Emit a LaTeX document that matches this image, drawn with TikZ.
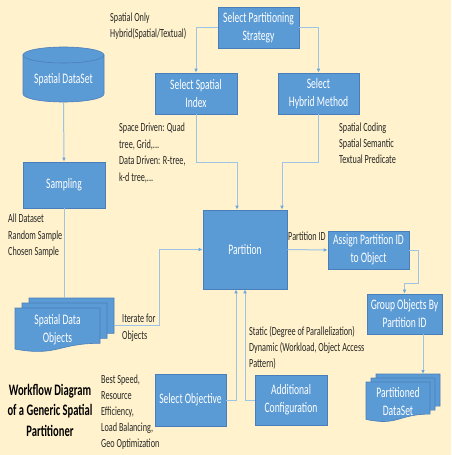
\documentclass[tikz,border=0pt]{standalone}
\usepackage{fontspec}
\setmainfont{Carlito}[FakeStretch=0.66]
\usetikzlibrary{arrows.meta}
\definecolor{bg}{HTML}{FFF2CC}
\definecolor{boxblue}{HTML}{5B9BD5}
\definecolor{boxborder}{HTML}{4A7EBB}
\definecolor{lineblue}{HTML}{9DC3E6}
\definecolor{arrowblue}{HTML}{6FA8DC}
\definecolor{notetext}{HTML}{262626}
\newcommand\docshape[4]{%
  \filldraw[docst] (#1,#2) -- ({#1+#3},#2) -- ({#1+#3},{#2+0.802*#4})
   .. controls ({#1+0.5*#3},{#2+0.802*#4}) and ({#1+0.5*#3},{#2+1.1075*#4}) .. (#1,{#2+0.934*#4}) -- cycle;}
\begin{document}
\begin{tikzpicture}[x=1pt,y=-1pt,
  box/.style={draw=boxborder, line width=0.6pt, fill=boxblue, text=white,
    font=\fontsize{14.5}{18}\selectfont, align=center, inner sep=0pt},
  boxtext/.style={text=white, font=\fontsize{14.5}{18}\selectfont, align=center, inner sep=0pt},
  docst/.style={draw=boxborder, line width=0.6pt, fill=boxblue},
  note/.style={text=notetext, font=\fontsize{12.4}{16.4}\selectfont, inner sep=0pt, anchor=base west},
  conn/.style={draw=lineblue, line width=1pt, -{Latex[length=4pt,width=3.6pt,color=arrowblue]}},
  connplain/.style={draw=lineblue, line width=1pt}]
\useasboundingbox (0,0) rectangle (451,455);
\fill[bg] (0,0) rectangle (451,455);

% cylinder
\filldraw[docst] (23,55) -- (23,94) .. controls (23,98.42) and (41.13,102) .. (63.5,102)
  .. controls (85.87,102) and (104,98.42) .. (104,94) -- (104,55) -- cycle;
\filldraw[docst] (63.5,55) ellipse [x radius=40.5pt, y radius=8pt];
\node[boxtext] (ds) at (63.5,80) {Spatial DataSet};
\coordinate (dsbot) at (63.5,102);

% boxes
\node[box, minimum width=81pt, minimum height=41pt] (strat) at (258.5,27.5) {Select Partitioning\\Strategy};
\node[box, minimum width=82pt, minimum height=41pt] (idx) at (196,93.5) {Select Spatial\\Index};
\node[box, minimum width=81pt, minimum height=41pt] (hyb) at (318.5,93.5) {Select\\Hybrid Method};
\node[box, minimum width=82pt, minimum height=46pt] (samp) at (64,185) {Sampling};
\node[box, minimum width=84pt, minimum height=79pt] (part) at (245,249.5) {Partition};
\node[box, minimum width=81pt, minimum height=38pt] (assign) at (368.5,250) {Assign Partition ID\\to Object};
\node[box, minimum width=75pt, minimum height=40pt] (group) at (404.5,314) {Group Objects By\\Partition ID};
\node[box, minimum width=71pt, minimum height=52pt] (obj) at (190.5,400) {Select Objective};
\node[box, minimum width=72pt, minimum height=50pt] (conf) at (291,400) {Additional\\Configuration};

% multi-documents
\docshape{29}{298}{85}{44}
\docshape{22}{303}{85}{44}
\docshape{15}{308}{85}{44}
\node[boxtext] (sdo) at (57.5,330) {Spatial Data\\Objects};
\coordinate (sdotop) at (64,298);
\coordinate (sdoR) at (114,325);

\docshape{376}{374}{64}{40}
\docshape{371}{378}{64}{40}
\docshape{366}{382}{64}{40}
\node[boxtext] (pds) at (398,401.5) {Partitioned\\DataSet};
\coordinate (pdstop) at (423,374);

% connectors
\draw[conn] (strat.west) -| (idx.north);
\draw[conn] (strat.east) -| (hyb.north);
\draw[conn] (idx.south) -- ++(0,48) -| ([xshift=-8pt]part.north);
\draw[conn] (hyb.south) -- ++(0,48) -| ([xshift=37pt]part.north);
\draw[conn] (dsbot) -- (samp.north);
\draw[connplain] (samp.south) -- (sdotop);
\draw[conn] (sdoR) -- ++(45,0) |- (part.west);
\draw[conn] (part.east) -- (assign.west);
\draw[conn] (assign.east) -- ++(9,0) -- ++(0,33) -| (group.north);
\draw[conn] ([xshift=18.5pt]group.south) -- (pdstop);
\draw[conn] (obj.east) -| ([xshift=-9pt]part.south);
\draw[conn] (conf.west) -| (part.south);

% notes
\node[note] (n1) at (110,21) {Spatial Only};
\node[note] (n2) at (110,37.5) {Hybrid(Spatial/Textual)};
\node[note] (n3) at (119,131.5) {Space Driven: Quad};
\node[note] (n4) at (119,148) {tree, Grid,...};
\node[note] (n5) at (119,164.5) {Data Driven: R-tree,};
\node[note] (n6) at (119,181) {k-d tree,...};
\node[note] (n7) at (339,131.5) {Spatial Coding};
\node[note] (n8) at (339,147.5) {Spatial Semantic};
\node[note] (n9) at (339,163.5) {Textual Predicate};
\node[note] (n10) at (8,222.5) {All Dataset};
\node[note] (n11) at (8,239) {Random Sample};
\node[note] (n12) at (8,255.3) {Chosen Sample};
\node[note] (n13) at (122,322.5) {Iterate for};
\node[note] (n14) at (122,339) {Objects};
\node[note] (n15) at (288,240.5) {Partition ID};
\node[note] (n16) at (249,335.5) {Static (Degree of Parallelization)};
\node[note] (n17) at (249,351.5) {Dynamic (Workload, Object Access};
\node[note] (n18) at (249,367.5) {Pattern)};
\node[note] (n19) at (101,383.5) {Best Speed,};
\node[note] (n20) at (101,399.5) {Resource};
\node[note] (n21) at (101,415.5) {Efficiency,};
\node[note] (n22) at (101,431.5) {Load Balancing,};
\node[note] (n23) at (101,447.5) {Geo Optimization};

\node[text=black, font=\fontsize{16}{20.5}\selectfont\bfseries, align=center, inner sep=0pt] (title) at (50,410) {Workflow Diagram\\of a Generic Spatial\\Partitioner};
\end{tikzpicture}
\end{document}
